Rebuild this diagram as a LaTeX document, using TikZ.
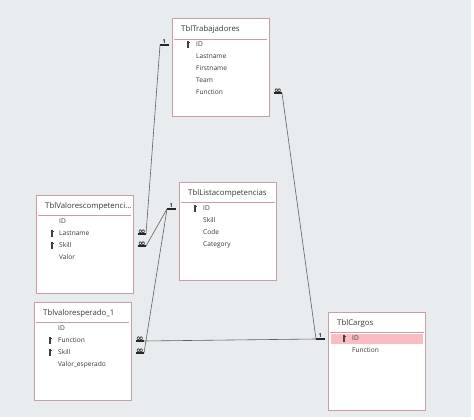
\documentclass[tikz,border=0pt]{standalone}
\usepackage{fontspec}
\setmainfont{Open Sans}
\newfontfamily\symf{DejaVu Sans}
\usetikzlibrary{positioning,calc}
\definecolor{bgcolor}{RGB}{233,236,239}
\definecolor{tblborder}{RGB}{201,158,166}
\definecolor{keyrow}{RGB}{250,188,194}
\definecolor{txtcolor}{RGB}{55,55,55}
\definecolor{linkcolor}{RGB}{95,95,95}

\begin{document}
\begin{tikzpicture}[x=1pt, y=-1pt,
    tbl/.style={draw=tblborder, fill=white, line width=1pt, minimum width=97pt,
      minimum height=98pt, inner sep=0pt, anchor=north west},
    ttl/.style={font=\fontsize{7.8}{9}\selectfont, text=txtcolor, anchor=west, inner sep=0pt},
    fld/.style={font=\fontsize{6.6}{8}\selectfont, text=txtcolor, anchor=west, inner sep=0pt,
      text height=4.8pt, text depth=1.4pt},
    sep/.style={draw=tblborder, line width=0.9pt},
    stub/.style={draw=black!85, line width=1.6pt},
    link/.style={draw=linkcolor, line width=0.6pt},
    card/.style={font=\fontsize{5.5}{6}\selectfont\bfseries, inner sep=0.4pt, above, text=black!85},
    many/.style={font=\symf\fontsize{9}{9}\selectfont\bfseries, inner sep=0pt, above=-1.2pt, text=black!85},
    pkey/.pic={
      \fill[black!75] (-1.4,3.6) rectangle (1.4,0.8);
      \fill[black!75] (-0.7,0.8) rectangle (0.7,-3.4);
      \fill[black!75] (0.7,-1.4) rectangle (1.5,-2.4);
    }]
  \fill[white] (0,0) rectangle (474,420);
  \fill[bgcolor] (0,0) rectangle (471,417);

  % TblTrabajadores
  \node[tbl] (trab) at (172,18) {};
  \node[ttl] (trab-t) at (181,29) {TblTrabajadores};
  \draw[sep] (174,39) -- (267,39);
  \foreach \f [count=\i] in {ID,Lastname,Firstname,Team,Function}
    \node[fld] (trab-\i) at (196,{45+12*(\i-1)}) {\f};
  \pic at (188,44.5) {pkey};

  % TblValorescompetencias
  \node[tbl] (valc) at (36,195) {};
  \node[ttl] (valc-t) at (45,206) {TblValorescompetenci...};
  \draw[sep] (38,215) -- (131,215);
  \foreach \f [count=\i] in {ID,Lastname,Skill,Valor}
    \node[fld] (valc-\i) at (59,{222+12*(\i-1)}) {\f};
  \pic at (52,233) {pkey};
  \pic at (52,245) {pkey};

  % TblListacompetencias
  \node[tbl] (lista) at (179,182) {};
  \node[ttl] (lista-t) at (188,193) {TblListacompetencias};
  \draw[sep] (181,202) -- (275,202);
  \foreach \f [count=\i] in {ID,Skill,Code,Category}
    \node[fld] (lista-\i) at (203,{209+12*(\i-1)}) {\f};
  \pic at (195,208) {pkey};

  % Tblvaloresperado_1
  \node[tbl] (vesp) at (34,302) {};
  \node[ttl] (vesp-t) at (43,313) {Tblvaloresperado\_1};
  \draw[sep] (36,322) -- (129,322);
  \foreach \f [count=\i] in {ID,Function,Skill,Valor\_esperado}
    \node[fld] (vesp-\i) at (58,{329+12*(\i-1)}) {\f};
  \pic at (50,340) {pkey};
  \pic at (50,352) {pkey};

  % TblCargos
  \node[tbl] (cargo) at (328,312) {};
  \node[ttl] (cargo-t) at (337,323) {TblCargos};
  \draw[sep] (330,332) -- (424,332);
  \fill[keyrow] (331,333.5) rectangle (423,344);
  \foreach \f [count=\i] in {ID,Function}
    \node[fld] (cargo-\i) at (352,{339+12*(\i-1)}) {\f};
  \pic at (344,338) {pkey};

  % relationship ends
  \foreach \fld/\tb/\an/\dir/\kind/\lbl in {trab-1/trab/west/-1/card/1, trab-5/trab/east/1/many/∞,
      valc-2/valc/east/1/many/∞, valc-3/valc/east/1/many/∞,
      lista-1/lista/west/-1/card/1, vesp-2/vesp/east/1/many/∞,
      vesp-3/vesp/east/1/many/∞, cargo-1/cargo/west/-1/card/1} {
    \path (\tb.\an |- \fld) ++(3.5*\dir,0) coordinate (\fld-a) ++(8.5*\dir,0) coordinate (\fld-b);
    \draw[stub] (\fld-a) -- node[\kind] {\lbl} (\fld-b);
  }

  \draw[link] (trab-1-b) -- (valc-2-b);
  \draw[link] (lista-1-b) -- (valc-3-b);
  \draw[link] (lista-1-b) -- (vesp-3-b);
  \draw[link] (vesp-2-b) -- (cargo-1-b);
  \draw[link] (trab-5-b) -- (cargo-1-b);
\end{tikzpicture}
\end{document}
